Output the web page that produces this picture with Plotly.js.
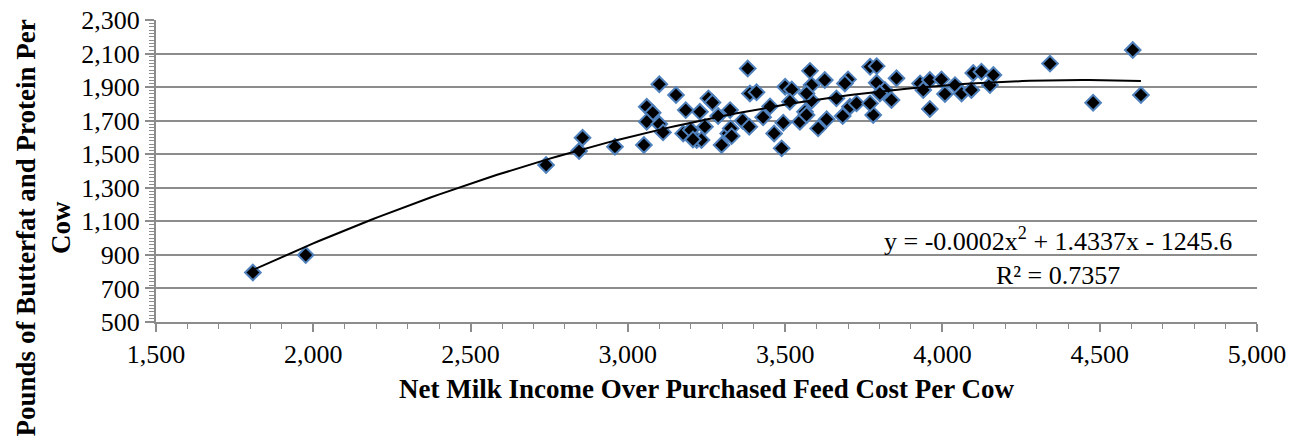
<!DOCTYPE html>
<html>
<head>
<meta charset="utf-8">
<script src="https://cdn.plot.ly/plotly-3.0.1.min.js"></script>
<style>
html,body{margin:0;padding:0;background:#fff;}
#chart{width:1303px;height:439px;}
</style>
</head>
<body>
<div id="chart"></div>
<script>
// Net milk income over purchased feed cost per cow ($)
const netIncome = [
  1808, 1976, 2740, 2845, 2856, 2959, 3051, 3060, 3079, 3060,
  3100, 3112, 3100, 3153, 3184, 3176, 3200, 3219, 3234, 3245,
  3229, 3256, 3269, 3287, 3298, 3319, 3327, 3325, 3365, 3386,
  3381, 3388, 3409, 3430, 3452, 3465, 3489, 3494, 3500, 3521,
  3515, 3547, 3563, 3579, 3584, 3584, 3568, 3605, 3632, 3626,
  3663, 3683, 3700, 3690, 3706, 3727, 3770, 3791, 3780, 3770,
  3791, 3817, 3801, 3838, 3854, 3929, 3939, 3960, 3960, 3997,
  4008, 4040, 4061, 4098, 4092, 4124, 4151, 4162, 4342, 4479,
  4605, 4631, 3330, 3568, 3207
];
// Pounds of butterfat and protein per cow
const fatProtein = [
  795, 899, 1436, 1519, 1598, 1545, 1555, 1783, 1747, 1694,
  1680, 1630, 1917, 1853, 1763, 1624, 1644, 1585, 1585, 1664,
  1753, 1833, 1808, 1728, 1555, 1624, 1654, 1763, 1700, 1664,
  2011, 1862, 1869, 1720, 1785, 1624, 1535, 1688, 1902, 1886,
  1813, 1694, 1753, 1997, 1912, 1819, 1862, 1654, 1708, 1942,
  1833, 1728, 1946, 1922, 1783, 1803, 2021, 2025, 1734, 1803,
  1926, 1883, 1862, 1823, 1953, 1922, 1883, 1942, 1770, 1946,
  1859, 1912, 1862, 1984, 1883, 1992, 1912, 1972, 2040, 1807,
  2121, 1853, 1608, 1734, 1588
];
const yTickVals = [500, 700, 900, 1100, 1300, 1500, 1700, 1900, 2100, 2300];
const xTickVals = [1500, 2000, 2500, 3000, 3500, 4000, 4500, 5000];
const equationText = 'y = -0.0002x<sup>2</sup> + 1.4337x - 1245.6<br>R² = 0.7357';
const xTitle = 'Net Milk Income Over Purchased Feed Cost Per Cow';
const yTitle = 'Pounds of Butterfat and Protein Per<br>Cow';

// Quadratic least-squares trendline computed from the data
function quadFit(xs, ys) {
  let n = xs.length, s = [0,0,0,0,0], t = [0,0,0];
  const m = xs.reduce((a,b)=>a+b,0)/n;
  for (let i = 0; i < n; i++) {
    const x = xs[i] - m, y = ys[i];
    let p = 1;
    for (let k = 0; k < 5; k++) { s[k] += p; if (k < 3) t[k] += p*y; p *= x; }
  }
  const A = [[s[0],s[1],s[2],t[0]],[s[1],s[2],s[3],t[1]],[s[2],s[3],s[4],t[2]]];
  for (let i = 0; i < 3; i++) {
    for (let j = i+1; j < 3; j++) {
      const f = A[j][i]/A[i][i];
      for (let k = i; k < 4; k++) A[j][k] -= f*A[i][k];
    }
  }
  const c = [0,0,0];
  for (let i = 2; i >= 0; i--) {
    let v = A[i][3];
    for (let k = i+1; k < 3; k++) v -= A[i][k]*c[k];
    c[i] = v/A[i][i];
  }
  return x => c[0] + c[1]*(x-m) + c[2]*(x-m)*(x-m);
}
const f = quadFit(netIncome, fatProtein);
const xmin = Math.min(...netIncome), xmax = Math.max(...netIncome);
const tx = [], ty = [];
for (let i = 0; i <= 120; i++) { const x = xmin + (xmax-xmin)*i/120; tx.push(x); ty.push(f(x)); }

const font = 'Liberation Serif';
const traces = [
  {x: netIncome, y: fatProtein, type: 'scatter', mode: 'markers',
   marker: {symbol: 'diamond', size: 12, color: '#000000', line: {color: '#4F81BD', width: 2}},
   hoverinfo: 'x+y'},
  {x: tx, y: ty, type: 'scatter', mode: 'lines', line: {color: '#000000', width: 2}, hoverinfo: 'skip'}
];
const layout = {
  width: 1303, height: 439,
  margin: {l: 156, r: 46, t: 20, b: 117},
  paper_bgcolor: '#ffffff', plot_bgcolor: '#ffffff',
  showlegend: false,
  font: {family: font, size: 26, color: '#000000'},
  xaxis: {
    range: [1500, 5000], tickvals: xTickVals, tickformat: ',',
    showgrid: false, zeroline: false,
    showline: true, linecolor: '#8c8c8c', linewidth: 2,
    ticks: 'outside', ticklen: 8, tickcolor: '#8c8c8c', tickwidth: 2,
    minor: {dtick: 100, ticks: 'outside', ticklen: 5, tickcolor: '#8c8c8c', tickwidth: 1, showgrid: false},
    tickfont: {family: font, size: 26, color: '#000000'},
    title: {text: xTitle, font: {family: font, size: 27, weight: 'bold', color: '#000000'}, standoff: 11}
  },
  yaxis: {
    range: [500, 2300], tickvals: yTickVals, tickformat: ',',
    showgrid: true, gridcolor: '#8c8c8c', gridwidth: 2, zeroline: false,
    showline: true, linecolor: '#8c8c8c', linewidth: 2,
    ticks: 'outside', ticklen: 9, tickcolor: '#8c8c8c', tickwidth: 2,
    minor: {dtick: 20, ticks: 'outside', ticklen: 5, tickcolor: '#8c8c8c', tickwidth: 1, showgrid: false},
    tickfont: {family: font, size: 26, color: '#000000'}
  },
  annotations: [
    {text: yTitle, xref: 'paper', yref: 'paper', x: -0.1026, y: 0.31, xanchor: 'center', yanchor: 'middle',
     textangle: -90, showarrow: false, font: {family: font, size: 27, weight: 'bold', color: '#000000'}},
    {text: equationText, xref: 'x', yref: 'y', x: 4367, y: 888, xanchor: 'center', yanchor: 'middle',
     align: 'center', showarrow: false, font: {family: font, size: 26, color: '#000000'}}
  ]
};
Plotly.newPlot('chart', traces, layout, {displayModeBar: false, staticPlot: true});
</script>
</body>
</html>
